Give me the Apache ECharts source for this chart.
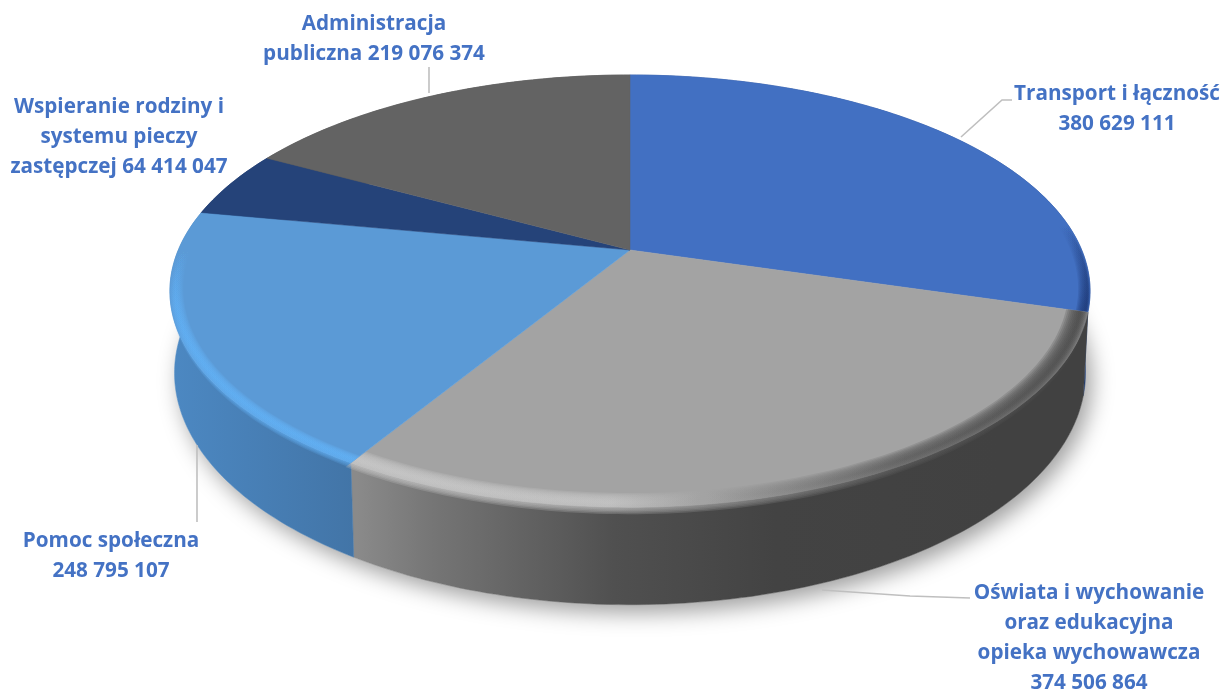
<!DOCTYPE html>
<html><head><meta charset="utf-8">
<style>html,body{margin:0;padding:0;background:#fff}#c{width:1224px;height:691px;filter:blur(0.45px)}</style>
<script src="https://cdn.jsdelivr.net/npm/echarts@6/dist/echarts.min.js"></script>
</head><body><div id="c"></div>
<script>
var categories = ['Transport i łączność','Oświata i wychowanie\noraz edukacyjna\nopieka wychowawcza','Pomoc społeczna','Wspieranie rodziny i\nsystemu pieczy\nzastępczej','Administracja\npubliczna'];
var values = [380629111,374506864,248795107,64414047,219076374];
var valueOnOwnLine = [true,true,true,false,false];
var faceColors = ['#4270C2','#A3A3A3','#5B9AD6','#254379','#636363'];

var cx=630, cy=250, k=0.19, A=451.7, B=208.3, H=79, S=0.99, R=Math.PI/180;
var total=values.reduce(function(a,b){return a+b;},0);
function angles(i){var s=0;for(var j=0;j<i;j++)s+=values[j];return [s/total*360,(s+values[i])/total*360];}
function pt(t,r){var u=r*Math.sin(t*R),v=r*Math.cos(t*R),w=1+k*v;return [cx+A*u/w,cy-B*v/w];}
function low(t){var p=pt(t,1),w=1+k*Math.cos(t*R);return [cx+(p[0]-cx)*S,p[1]+H/w];}
function arc(a,b,f,r){var o=[],n=Math.max(4,Math.ceil(b-a));for(var i=0;i<=n;i++){var t=a+(b-a)*i/n;o.push(f(t,r));}return o;}
function lin(x,y,x2,y2,stops){return {type:'linear',x:x,y:y,x2:x2,y2:y2,global:true,colorStops:stops.map(function(s){return {offset:s[0],color:s[1]};})};}

var wallFill=[
 lin(0,250,0,360,[[0,'#2a4f95'],[1,'#203d74']]),
 lin(357,0,1000,0,[[0,'#8a8a8a'],[0.12,'#757575'],[0.4,'#505050'],[0.65,'#434343'],[1,'#414141']]),
 lin(172,0,360,0,[[0,'#4c88c2'],[0.4,'#4880b7'],[1,'#4274a6']]),
 '#223d6d','#555555'];
var bevelFill=[
 lin(0,225,0,313,[[0,'rgba(30,58,120,0)'],[0.6,'rgba(30,58,120,0.6)'],[1,'rgba(30,58,120,1)']]),
 lin(357,0,1087,0,[[0,'#c8c8c8'],[0.35,'#c4c4c4'],[0.55,'#8f8f8f'],[0.75,'#5d5d5d'],[1,'#484848']]),
 lin(0,250,0,350,[[0,'rgba(98,176,244,0)'],[0.55,'rgba(98,176,244,0.7)'],[1,'rgba(98,176,244,0.95)']])
];
var bevelInner=[0.975,0.955,0.972];
var bevelMid=[0.995,0.985,0.988];
var bevelFront=[0,0.022,0.018];
var bevelSteps=8;

function renderWall(params,api){
  var i=params.dataIndex, a=angles(i), ch=[];
  if(i===0){
    ch.push({type:'polygon',shape:{points:arc(0,360,low)},style:{fill:'#ffffff',shadowBlur:22,shadowColor:'rgba(0,0,0,0.38)',shadowOffsetX:6,shadowOffsetY:8},silent:true});
  }
  var top=arc(a[0],a[1],pt,1), bot=arc(a[0],a[1],low).reverse();
  ch.push({type:'polygon',shape:{points:top.concat(bot)},style:{fill:wallFill[i],stroke:wallFill[i],lineWidth:0.5},silent:true});
  return {type:'group',children:ch};
}
function renderFace(params,api){
  var i=params.dataIndex, a=angles(i), ch=[];
  ch.push({type:'polygon',shape:{points:[[cx,cy]].concat(arc(a[0],a[1],pt,1))},style:{fill:faceColors[i],stroke:faceColors[i],lineWidth:0.5},silent:true});
  if(bevelFill[i]){
    var mid=bevelMid[i], rin=bevelInner[i];
    for(var j=0;j<bevelSteps;j++){
      var f=j/bevelSteps, rIn=rin+(mid-rin)*f;
      var outF=function(t,o){var c=Math.max(0,-Math.cos(t*R));return pt(t,o+(1+bevelFront[i]*c*c-o)*(1-f)+(mid-o)*f);};
      var out=arc(a[0],a[1],outF,1), inn=arc(a[0],a[1],pt,rIn).reverse();
      ch.push({type:'polygon',shape:{points:out.concat(inn)},style:{fill:bevelFill[i],opacity:0.24},silent:true});
    }
  }
  return {type:'group',children:ch};
}
var labelCenter=[[1117,79],[1089,578],[111,526],[119,92],[374,9]];
var leaders=[[[961,137],[1002,100],[1012,100]],[[822,590],[910,596],[970,598]],[[197,445],[197,522]],null,[[429,67],[429,93]]];
function fmt(v){return String(v).replace(/\B(?=(\d{3})+$)/g,' ');}
function renderLabel(params,api){
  var i=params.dataIndex, ch=[];
  if(leaders[i])ch.push({type:'polyline',shape:{points:leaders[i]},style:{stroke:'#BFBFBF',lineWidth:1.6,fill:null},silent:true});
  ch.push({type:'text',x:labelCenter[i][0],y:labelCenter[i][1],style:{
    text:categories[i]+(valueOnOwnLine[i]?'\n':' ')+fmt(api.value(1)),
    fill:'#4472C4',font:'700 20.7px "Open Sans"',align:'center',verticalAlign:'top',lineHeight:30},silent:true});
  return {type:'group',children:ch};
}
var rows=categories.map(function(c,i){return [c.replace(/\n/g,' '),values[i]];});
var chart=echarts.init(document.getElementById('c'),null,{renderer:'canvas'});
function s(r){return {type:'custom',coordinateSystem:'none',renderItem:r,data:rows,animation:false,silent:true};}
chart.setOption({animation:false,backgroundColor:'#ffffff',series:[s(renderWall),s(renderFace),s(renderLabel)]});
</script></body></html>
